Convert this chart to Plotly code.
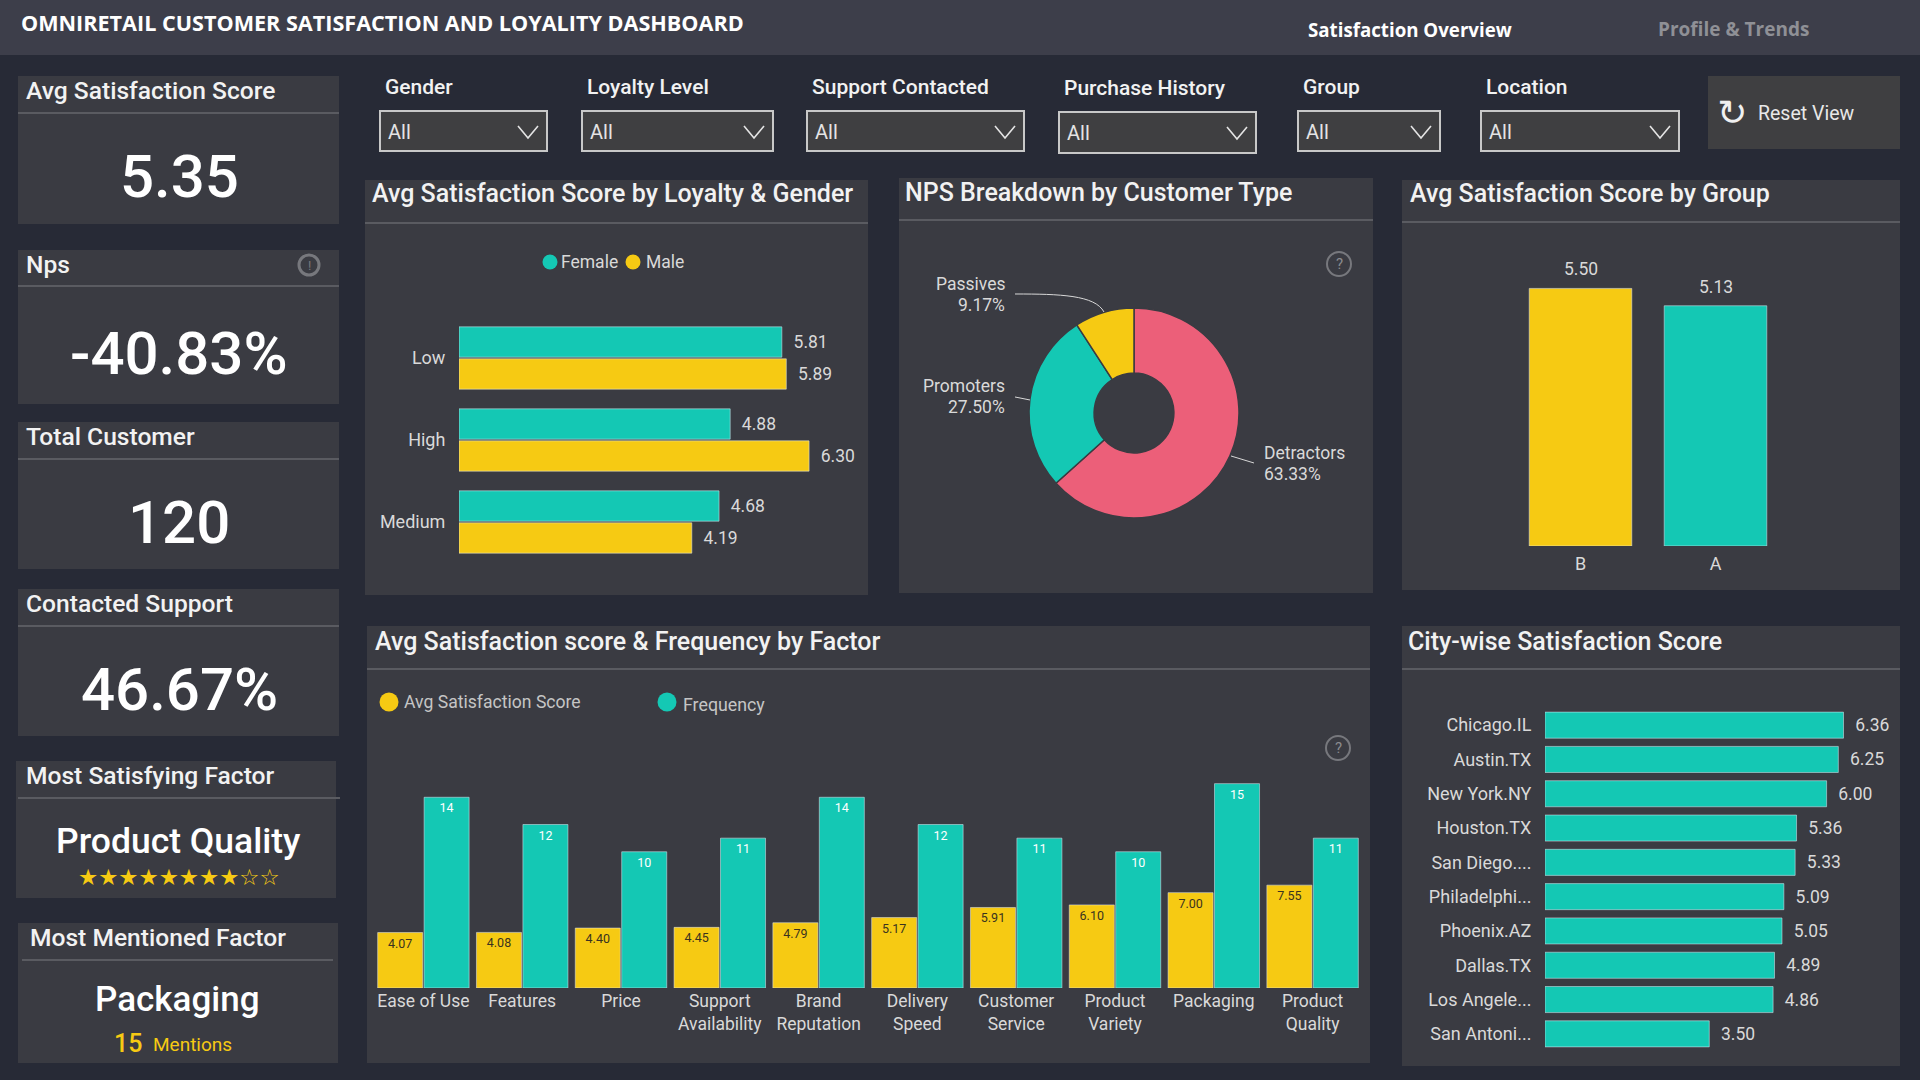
import plotly.graph_objects as go

W, H = 1920, 1080

BG = '#272a36'
TOPBAR = '#3d3e4a'
PANEL = '#3a3b42'
RULE = '#5a5b61'
TEAL = '#14c8b4'
YELLOW = '#f6ca13'
RED = '#ec5f79'
TXT = '#f2f2f2'
TICK = '#d9d9d9'
FONT = 'Roboto'
PAD = '\u00a0\u00a0'  # gap between a bar end and its label

# loyalty & gender
loyalty = ['Low', 'High', 'Medium']
female_score = [5.81, 4.88, 4.68]
male_score = [5.89, 6.30, 4.19]

# nps
nps_types = ['Detractors', 'Promoters', 'Passives']
nps_share = [63.33, 27.50, 9.17]

# group
groups = ['B', 'A']
group_score = [5.50, 5.13]

# factors
factors = ['Ease of Use', 'Features', 'Price', 'Support<br>Availability', 'Brand<br>Reputation',
           'Delivery<br>Speed', 'Customer<br>Service', 'Product<br>Variety', 'Packaging', 'Product<br>Quality']
factor_score = [4.07, 4.08, 4.40, 4.45, 4.79, 5.17, 5.91, 6.10, 7.00, 7.55]
factor_freq = [14, 12, 10, 11, 14, 12, 11, 10, 15, 11]

# cities
cities = ['Chicago.IL', 'Austin.TX', 'New York.NY', 'Houston.TX', 'San Diego....', 'Philadelphi...',
          'Phoenix.AZ', 'Dallas.TX', 'Los Angele...', 'San Antoni...']
city_score = [6.36, 6.25, 6.00, 5.36, 5.33, 5.09, 5.05, 4.89, 4.86, 3.50]

# kpi cards
kpi_titles = ['Avg Satisfaction Score', 'Nps', 'Total Customer', 'Contacted Support']
kpi_values = ['5.35', '-40.83%', '120', '46.67%']

# slicers
slicer_names = ['Gender', 'Loyalty Level', 'Support Contacted', 'Purchase History', 'Group', 'Location']
slicer_boxes = [(380, 547, 111, 151), (582, 773, 111, 151), (807, 1024, 111, 151),
                (1059, 1256, 112, 153), (1298, 1440, 111, 151), (1481, 1679, 111, 151)]

shapes = []
notes = []


def fx(x):
    return x / W


def fy(y):
    return 1 - y / H


def rect(x0, x1, y0, y1, fill, line=None, lw=0):
    shapes.append(dict(type='rect', xref='paper', yref='paper', x0=fx(x0), x1=fx(x1), y0=fy(y0), y1=fy(y1),
                       fillcolor=fill, line=dict(color=line or fill, width=lw), layer='below'))


def hline(x0, x1, y, color=RULE, lw=2):
    shapes.append(dict(type='line', xref='paper', yref='paper', x0=fx(x0), x1=fx(x1), y0=fy(y), y1=fy(y),
                       line=dict(color=color, width=lw), layer='below'))


def circle(cx, cy, r, fill='rgba(0,0,0,0)', line=None, lw=0):
    shapes.append(dict(type='circle', xref='paper', yref='paper', x0=fx(cx - r), x1=fx(cx + r),
                       y0=fy(cy + r), y1=fy(cy - r), fillcolor=fill, line=dict(color=line or fill, width=lw)))


def path(points, color, lw=1, curve=False):
    p = [f'{fx(x):.5f},{fy(y):.5f}' for x, y in points]
    d = f'M{p[0]} C{p[1]} {p[2]} {p[3]}' if curve else 'M' + ' L'.join(p)
    shapes.append(dict(type='path', xref='paper', yref='paper', path=d, line=dict(color=color, width=lw)))


def text(x, y, s, size=22, color=TXT, anchor='left', weight=None, family=FONT):
    notes.append(dict(xref='paper', yref='paper', x=fx(x), y=fy(y), text=s, showarrow=False, xanchor=anchor,
                      yanchor='middle', align=anchor,
                      font=dict(size=size, color=color, family=family, weight=weight)))


def card(x0, x1, y0, y1, rule_y, title, title_x=None, rule_x0=None, rule_x1=None, title_y=None, size=25):
    rect(x0, x1, y0, y1, PANEL)
    hline(rule_x0 or x0, rule_x1 or x1, rule_y)
    text(title_x or x0 + 8, title_y or (y0 + rule_y) / 2 - 4, title, size=size, weight=500)


# background bits
rect(0, W, 0, 55, TOPBAR)
text(19, 23, 'OMNIRETAIL CUSTOMER SATISFACTION AND LOYALITY DASHBOARD', size=21.6, color='#ffffff',
     weight=700, family='Open Sans')
text(1306, 29, 'Satisfaction Overview', size=18.7, color='#ffffff', weight=700, family='Open Sans')
text(1656, 29, 'Profile & Trends', size=19, color='#8f9096', weight=700, family='Open Sans')

# kpi column
kpi_boxes = [(76, 224, 113), (250, 404, 286), (422, 569, 459), (589, 736, 626)]
for title, value, (y0, y1, ry) in zip(kpi_titles, kpi_values, kpi_boxes):
    card(18, 339, y0, y1, ry, title, title_x=24, size=24.6)
    text(179, (ry + y1) / 2 + 8, value, size=60, color='#ffffff', anchor='center', weight=500)

# little info dot on the nps card
circle(309, 265, 10, line='#77787d', lw=3)
text(309, 265, '!', size=13, color='#77787d', anchor='center')

card(16, 336, 761, 898, 798, 'Most Satisfying Factor', title_x=24, rule_x0=18, rule_x1=340, size=24.6)
text(178, 841, 'Product Quality', size=35.5, color='#ffffff', anchor='center', weight=500)
text(179, 877, '★★★★★★★★☆☆', size=22.5, color=YELLOW, anchor='center', family='DejaVu Sans')

card(18, 338, 923, 1063, 960, 'Most Mentioned Factor', title_x=28, rule_x0=22, rule_x1=333, size=24.6)
text(177, 999, 'Packaging', size=35, color='#ffffff', anchor='center', weight=500)
text(112, 1043, '15', size=25, color=YELLOW, weight=500)
text(151, 1044, 'Mentions', size=19, color=YELLOW)

# slicers
for name, (x0, x1, y0, y1) in zip(slicer_names, slicer_boxes):
    rect(x0, x1, y0, y1, '#3f3f41', line='#c8c8c8', lw=2)
    text(x0 + 3, y0 - 24, name, size=21, weight=500)
    text(x0 + 6, y0 + 21, 'All', size=20, color='#e4e4e4')
    cx = x1 - 19
    path([(cx - 10, y0 + 15), (cx, y0 + 27), (cx + 10, y0 + 15)], '#e4e4e4', lw=1.6)

# reset button
rect(1708, 1900, 76, 149, '#3f3f41')
text(1732, 112, '↻', size=36, color='#f0f0f0', anchor='center', family='DejaVu Sans')
text(1756, 113, 'Reset View', size=19.5, color='#e8e8e8')

# chart panels
card(365, 868, 180, 595, 223, 'Avg Satisfaction Score by Loyalty & Gender', title_x=370, title_y=194)
card(899, 1373, 178, 593, 220, 'NPS Breakdown by Customer Type', title_x=903, title_y=192)
card(1402, 1900, 180, 590, 222, 'Avg Satisfaction Score by Group', title_x=1408, title_y=194)
card(367, 1370, 626, 1063, 669, 'Avg Satisfaction score & Frequency by Factor', title_x=373, title_y=641)
card(1402, 1900, 626, 1066, 669, 'City-wise Satisfaction Score', title_x=1406, title_y=641)

# legends
circle(550, 262, 7.5, fill=TEAL)
text(559, 262, 'Female', size=17.5, color=TICK)
circle(633, 262, 7.5, fill=YELLOW)
text(644, 262, 'Male', size=17.5, color=TICK)
circle(389, 702, 9.5, fill=YELLOW)
text(402, 702, 'Avg Satisfaction Score', size=17.6, color='#c5c5c5')
circle(667, 702, 9.5, fill=TEAL)
text(681, 704, 'Frequency', size=17.8, color='#c5c5c5')

# question mark icons
for cx, cy in [(1339, 264), (1338, 748)]:
    circle(cx, cy, 12, line='#77787d', lw=2)
    text(cx, cy, '?', size=15, color='#8a8b8f', anchor='center')

# pie labels and leader lines
text(1007, 284, nps_types[2], size=17.5, color=TICK, anchor='right')
text(1007, 305, f'{nps_share[2]:.2f}%', size=17.5, color=TICK, anchor='right')
text(1007, 386, nps_types[1], size=17.5, color=TICK, anchor='right')
text(1007, 407, f'{nps_share[1]:.2f}%', size=17.5, color=TICK, anchor='right')
text(1262, 453, nps_types[0], size=17.5, color=TICK)
text(1262, 474, f'{nps_share[0]:.2f}%', size=17.5, color=TICK)
path([(1015, 294), (1060, 294), (1095, 295), (1104, 312)], '#d8d8d8', curve=True)
path([(1015, 397), (1030, 400)], '#d8d8d8')
path([(1231, 456), (1254, 463)], '#d8d8d8')

# group values sit a little above the bars
for g, v in zip(groups, group_score):
    notes.append(dict(xref='x2', yref='y2', x=g, y=v, yshift=7, text=f'{v:.2f}', showarrow=False, yanchor='bottom',
                      font=dict(size=17.5, color=TICK, family=FONT)))

fig = go.Figure()

# loyalty bars
fig.add_trace(go.Bar(y=loyalty, x=female_score, name='Female', orientation='h', marker_color=TEAL,
                     width=0.37, offset=-0.38,
                     text=[PAD + f'{v:.2f}' for v in female_score], textposition='outside',
                     textfont=dict(size=17.5, color=TICK), cliponaxis=False, xaxis='x', yaxis='y'))
fig.add_trace(go.Bar(y=loyalty, x=male_score, name='Male', orientation='h', marker_color=YELLOW,
                     width=0.37, offset=0.01,
                     text=[PAD + f'{v:.2f}' for v in male_score], textposition='outside',
                     textfont=dict(size=17.5, color=TICK), cliponaxis=False, xaxis='x', yaxis='y'))

# donut
fig.add_trace(go.Pie(labels=nps_types, values=nps_share, hole=0.38, sort=False, direction='clockwise',
                     rotation=0, textinfo='none', marker=dict(colors=[RED, TEAL, YELLOW],
                     line=dict(color=PANEL, width=1.5)),
                     domain=dict(x=[fx(1029), fx(1239)], y=[fy(518), fy(308)])))

# group bars
fig.add_trace(go.Bar(x=groups, y=group_score, marker_color=[YELLOW, TEAL], width=0.76,
                     cliponaxis=False, xaxis='x2', yaxis='y2'))

# factor bars
fig.add_trace(go.Bar(x=factors, y=factor_score, marker_color=YELLOW, name='Avg Satisfaction Score',
                     text=[f'{v:.2f}' for v in factor_score], textposition='inside', insidetextanchor='end',
                     textangle=0, textfont=dict(size=12.5, color='#3a3320'), xaxis='x3', yaxis='y3'))
fig.add_trace(go.Bar(x=factors, y=factor_freq, marker_color=TEAL, name='Frequency',
                     text=[str(v) for v in factor_freq], textposition='inside', insidetextanchor='end',
                     textangle=0, textfont=dict(size=12.5, color='#ffffff'), xaxis='x3', yaxis='y3'))

# city bars
fig.add_trace(go.Bar(y=cities, x=city_score, orientation='h', marker_color=TEAL, width=0.76,
                     text=[PAD + f'{v:.2f}' for v in city_score], textposition='outside',
                     textfont=dict(size=17.5, color=TICK), cliponaxis=False, xaxis='x4', yaxis='y4'))

hidden = dict(visible=False, showgrid=False, zeroline=False, fixedrange=True)
cat_ticks = dict(showgrid=False, zeroline=False, showline=False, ticks='outside', tickcolor='rgba(0,0,0,0)',
                 tickfont=dict(size=18, color=TICK, family=FONT), fixedrange=True)

fig.update_layout(
    width=W,
    height=H,
    margin=dict(l=0, r=0, t=0, b=0),
    paper_bgcolor=BG,
    plot_bgcolor='rgba(0,0,0,0)',
    font=dict(family=FONT, color=TXT),
    showlegend=False,
    barmode='group',
    bargap=0.06,
    bargroupgap=0.03,
    shapes=shapes,
    annotations=notes,
    # loyalty
    xaxis=dict(domain=[fx(459), fx(848)], range=[0, 7], anchor='y', **hidden),
    yaxis=dict(domain=[fy(563), fy(317)], autorange='reversed', anchor='x', ticklen=9, **cat_ticks),
    # group
    xaxis2=dict(domain=[fx(1513), fx(1783)], anchor='y2', ticklen=1, **cat_ticks),
    yaxis2=dict(domain=[fy(546), fy(265)], range=[0, 6], anchor='x2', **hidden),
    # factor
    xaxis3=dict(domain=[fx(374), fx(1362)], anchor='y3', ticklen=0, ticklabelstandoff=-3, **cat_ticks),
    yaxis3=dict(domain=[fy(988), fy(770)], range=[0, 16], anchor='x3', **hidden),
    # city
    xaxis4=dict(domain=[fx(1545), fx(1897)], range=[0, 7.5], anchor='y4', **hidden),
    yaxis4=dict(domain=[fy(1051), fy(708)], autorange='reversed', anchor='x4', ticklen=9, **cat_ticks),
)
fig.update_xaxes(tickfont_size=17.5, selector=dict(anchor='y3'))

fig.write_html('out.html', config={'displayModeBar': False}, post_script="document.body.style.margin='0';")
